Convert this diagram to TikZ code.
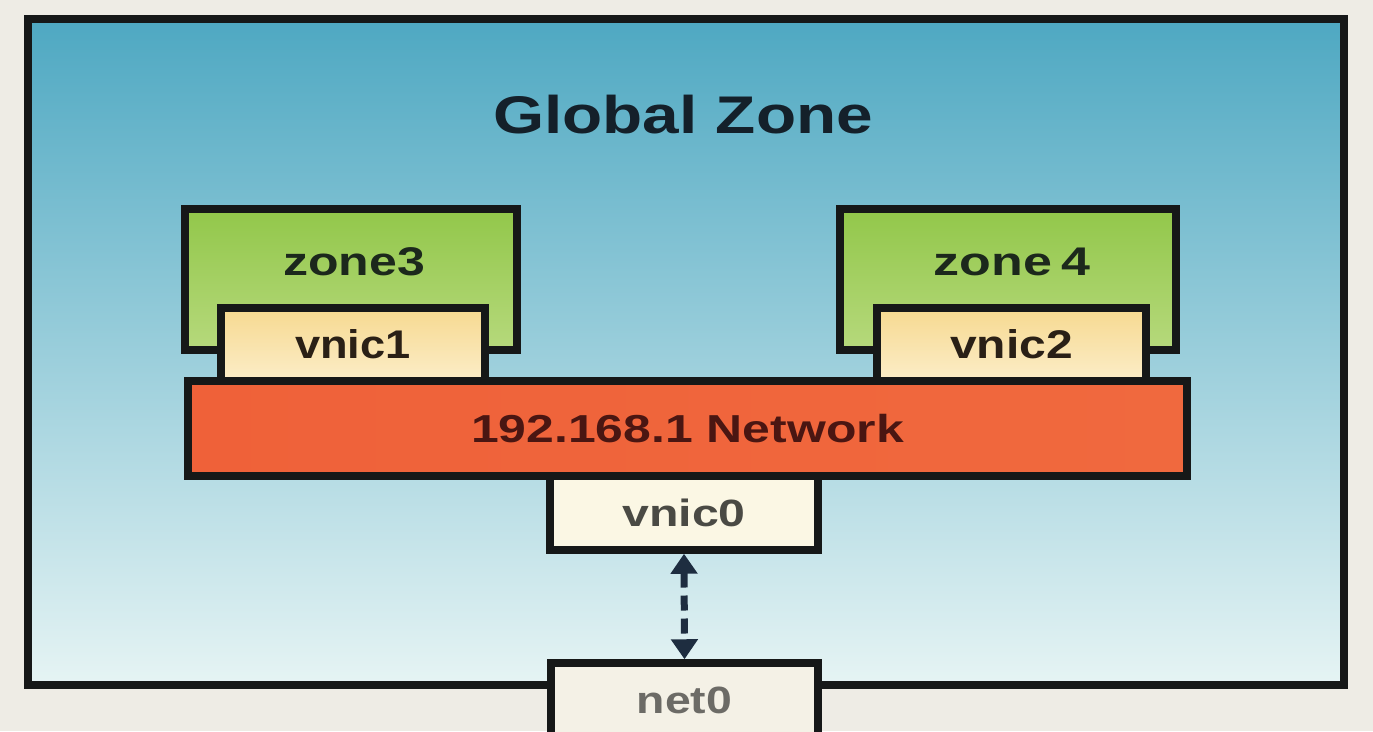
\documentclass[tikz,border=0pt]{standalone}
\usepackage{fontspec}
\setmainfont{Liberation Sans}
\usepackage{graphicx}
\usetikzlibrary{arrows.meta}
\definecolor{pagebg}{HTML}{EEECE5}
\definecolor{linec}{HTML}{161818}
\definecolor{gztop}{HTML}{4EA8C2}
\definecolor{gzmid}{HTML}{BCE2EA}
\definecolor{gzbot}{HTML}{E6F4F4}
\definecolor{zonetop}{HTML}{92C74A}
\definecolor{zonebot}{HTML}{B6D97C}
\definecolor{vnictop}{HTML}{F6D990}
\definecolor{vnicbot}{HTML}{FCEDC8}
\definecolor{netleft}{HTML}{EF6139}
\definecolor{netmid}{HTML}{F59868}
\definecolor{netright}{HTML}{F0693E}
\definecolor{vniczero}{HTML}{FBF7E4}
\definecolor{netzero}{HTML}{F4F1E6}
\definecolor{titlec}{HTML}{14202A}
\definecolor{zonetxt}{HTML}{1C281C}
\definecolor{vnictxt}{HTML}{2A2016}
\definecolor{nettxt}{HTML}{4A1612}
\definecolor{greytxt}{HTML}{4A4A44}
\definecolor{lgreytxt}{HTML}{6C6B66}
\definecolor{arrowc}{HTML}{1E2D40}
\newcommand\stretchtxt[2][1.24]{\scalebox{#1}[1]{#2}}
\tikzset{
  boxstyle/.style={draw=linec, line width=7.5pt, inner sep=0pt},
  bigfont/.style={font=\fontsize{40}{48}\selectfont\bfseries},
}
\begin{document}
\begin{tikzpicture}[x=1pt,y=-1pt]
\clip (0,0) rectangle (1373,731);
\fill[pagebg] (0,0) rectangle (1373,731);
% global zone frame
\node[draw=linec, line width=8pt, inner sep=0pt, minimum width=1316pt, minimum height=666pt,
      top color=gztop, middle color=gzmid, bottom color=gzbot] (gz) at (686,352) {};
\node[font=\fontsize{53}{60}\selectfont\bfseries, text=titlec] (gzt) at (683,115) {\stretchtxt{Global Zone}};
% zones
\node[boxstyle, minimum width=332pt, minimum height=141pt, top color=zonetop, bottom color=zonebot] (zone3) at (351,279.5) {};
\node[bigfont, text=zonetxt] (zone3t) at (354,262) {\stretchtxt[1.25]{zone3}};
\node[boxstyle, minimum width=336pt, minimum height=141pt, top color=zonetop, bottom color=zonebot] (zone4) at (1008,279.5) {};
\node[bigfont, text=zonetxt] (zone4t) at (1012,262) {\stretchtxt[1.3]{zone\,4}};
% vnics
\node[boxstyle, minimum width=264pt, minimum height=73pt, top color=vnictop, bottom color=vnicbot, bigfont, text=vnictxt] (vnic1) at (353,344.5) {\stretchtxt[1.13]{vnic1}};
\node[boxstyle, minimum width=269pt, minimum height=73pt, top color=vnictop, bottom color=vnicbot, bigfont, text=vnictxt] (vnic2) at (1011.5,344.5) {\stretchtxt[1.2]{vnic2}};
% network
\node[boxstyle, minimum width=999pt, minimum height=95pt, left color=netleft, middle color=netmid, right color=netright,
      font=\fontsize{39}{46}\selectfont\bfseries, text=nettxt] (net) at (687.5,428.5) {\stretchtxt[1.28]{192.168.1 Network}};
% vnic0 and net0
\node[boxstyle, fill=vniczero, minimum width=268pt, minimum height=74pt, font=\fontsize{38}{46}\selectfont\bfseries, text=greytxt] (vnic0) at (684,513) {\stretchtxt[1.27]{vnic0}};
\node[boxstyle, fill=netzero, minimum width=267pt, minimum height=74pt, font=\fontsize{38}{46}\selectfont\bfseries, text=lgreytxt] (net0) at (684.5,700) {\stretchtxt[1.22]{net0}};
% dashed connector
\draw[arrowc, line width=7pt, dash pattern=on 15pt off 8pt,
      {Triangle[length=20pt,width=26pt]}-{Triangle[length=20pt,width=26pt]}]
  (vnic0.south) -- (net0.north);
\end{tikzpicture}
\end{document}
